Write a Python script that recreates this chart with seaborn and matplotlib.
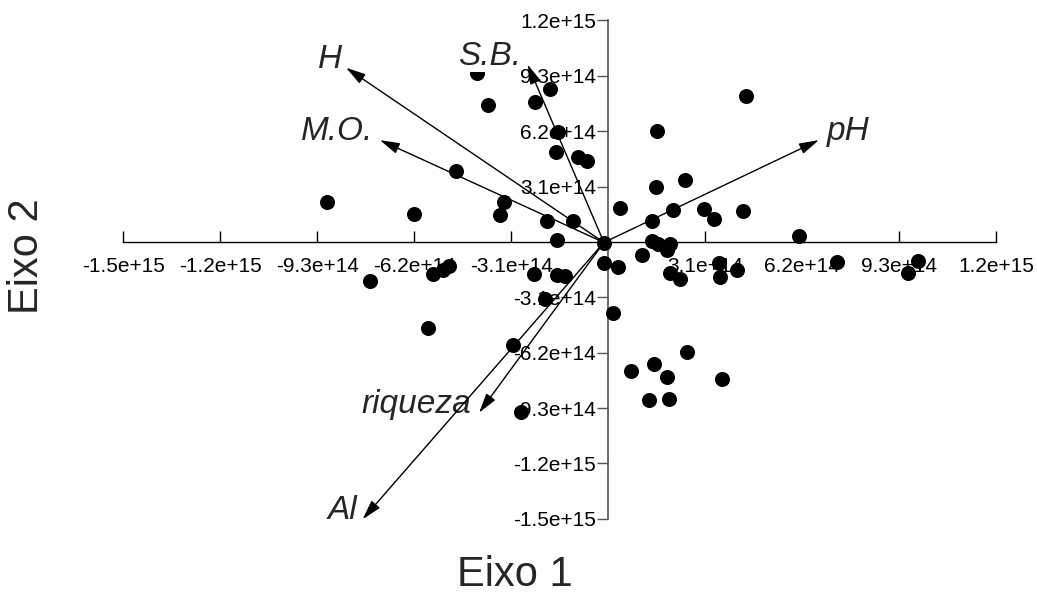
import pandas as pd
import matplotlib.pyplot as plt
import seaborn as sns

# sample scores on the first two axes (units of 1e14)
score_x = [-4.20, -1.86, -3.85, -2.34, -1.62, -1.66, -0.98, -0.67, -4.88, -9.00,
           -6.20, -3.32, -3.45, -1.97, -1.13, -1.65, -0.14, -7.62, -5.61, -5.28,
           -5.09, -2.38, -1.64, -1.38, -0.15, -2.02, -5.75, -3.05, -2.80, 4.40,
           1.55, 1.51, 2.45, 0.38, 2.08, 3.05, 3.38, 4.29, 1.39, 6.10,
           1.39, 1.60, 1.97, 1.88, 1.07, 0.32, 1.97, 2.28, 3.53, 3.57,
           4.12, 7.30, 9.89, 9.59, 0.16, 2.52, 1.46, 0.74, 1.87, 3.62,
           1.31, 1.95]
score_y = [9.45, 8.56, 7.66, 7.83, 6.18, 5.06, 4.78, 4.53, 3.97, 2.25,
           1.54, 2.22, 1.51, 1.19, 1.19, 0.12, -0.05, -2.19, -1.81, -1.57,
           -1.35, -1.80, -1.85, -1.91, -1.20, -3.20, -4.84, -5.75, -9.52, 8.16,
           6.22, 3.07, 3.46, 1.91, 1.79, 1.84, 1.28, 1.75, 1.18, 0.33,
           0.08, -0.12, -0.10, -0.45, -0.73, -1.41, -1.72, -2.05, -1.20, -1.96,
           -1.57, -1.14, -1.05, -1.76, -3.96, -6.16, -6.82, -7.24, -7.54, -7.66,
           -8.83, -8.77]

# environmental vectors (units of 1e14)
var_names = ['H', 'S.B.', 'M.O.', 'pH', 'riqueza', 'Al']
var_x = [-8.38, -2.58, -7.30, 6.73, -4.13, -7.85]
var_y = [9.75, 9.94, 5.70, 5.70, -9.56, -15.52]
var_origin = (-0.14, -0.03)
label_x = [-8.89, -3.81, -8.67, 7.66, -6.15, -8.51]
label_y = [9.73, 9.90, 5.70, 5.70, -9.59, -15.52]

tick_vals = [-15.5, -12.4, -9.3, -6.2, -3.1, 3.1, 6.2, 9.3, 12.4]
tick_labels = ['-1.5e+15', '-1.2e+15', '-9.3e+14', '-6.2e+14', '-3.1e+14',
               '3.1e+14', '6.2e+14', '9.3e+14', '1.2e+15']

E = 1e14
df = pd.DataFrame({'eixo1': [v * E for v in score_x], 'eixo2': [v * E for v in score_y]})

sns.set_style('white')
plt.rcParams['font.family'] = ['Liberation Sans', 'DejaVu Sans']

fig = plt.figure(figsize=(10.37, 5.95), dpi=100)
ax = fig.add_axes([0, 0, 1, 1])

sns.scatterplot(data=df, x='eixo1', y='eixo2', color='black', s=117,
                linewidth=0, legend=False, ax=ax, zorder=3)

ox, oy = var_origin[0] * E, var_origin[1] * E
for name, vx, vy, lx, ly in zip(var_names, var_x, var_y, label_x, label_y):
    ax.annotate('', xy=(vx * E, vy * E), xytext=(ox, oy),
                arrowprops=dict(arrowstyle='-|>,head_length=1.0,head_width=0.28',
                                mutation_scale=12, lw=1.0, color='black',
                                shrinkA=0, shrinkB=0),
                zorder=5)
    ax.text(lx * E, ly * E, name, fontsize=24, style='italic', ha='center',
            va='baseline', zorder=4,
            bbox=dict(fc='white', ec='none', pad=0) if name == 'S.B.' else None)

ax.set_xlim(-19.44 * E, 13.70 * E)
ax.set_ylim(-19.76 * E, 13.54 * E)

for side in ['top', 'right']:
    ax.spines[side].set_visible(False)
ax.spines['bottom'].set_position(('data', 0))
ax.spines['left'].set_position(('data', 0))
ax.spines['bottom'].set_bounds(tick_vals[0] * E, tick_vals[-1] * E)
ax.spines['left'].set_bounds(tick_vals[0] * E, tick_vals[-1] * E)
ax.spines['bottom'].set_color('black')
ax.spines['bottom'].set_linewidth(1.0)
ax.spines['left'].set_color('#555555')
ax.spines['left'].set_linewidth(1.2)

ax.set_xticks([v * E for v in tick_vals])
ax.set_xticklabels(tick_labels)
ax.set_yticks([v * E for v in tick_vals])
ax.set_yticklabels(tick_labels)
ax.tick_params(axis='x', direction='in', length=8, width=1, pad=11,
               labelsize=15, colors='black', bottom=True)
ax.tick_params(axis='y', direction='out', length=8, width=1, pad=1,
               labelsize=15, color='#555555', labelcolor='black', left=True)
ax.set_xlabel('')
ax.set_ylabel('')
ax.grid(False)

fig.text(515 / 1037, 1 - 586 / 595, 'Eixo 1', fontsize=30, ha='center', va='baseline')
fig.text(26.5 / 1037, 1 - 256 / 595, 'Eixo 2', fontsize=30, ha='center', va='center',
         rotation=90)

fig.savefig('out.png', dpi=100)
